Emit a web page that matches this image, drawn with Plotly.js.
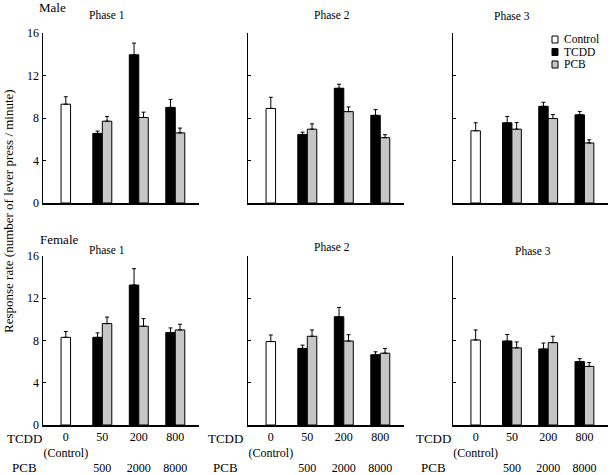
<!DOCTYPE html>
<html><head><meta charset="utf-8">
<script src="https://cdn.plot.ly/plotly-3.0.1.min.js"></script>
<style>html,body{margin:0;padding:0;background:#fff}</style>
</head><body><div id="chart" style="width:610px;height:475px"></div>
<script>
// ---- data ----
const doseTCDD = ['0', '50', '200', '800'];
const dosePCB = ['', '500', '2000', '8000'];
const controlNote = '(Control)';
const phases = ['Phase 1', 'Phase 2', 'Phase 3'];
const sexes = ['Male', 'Female'];
const seriesNames = ['Control', 'TCDD', 'PCB'];
const yTicks = [0, 4, 8, 12, 16];
const yTitle = 'Response rate (number of lever press / minute)';
const rowLabels = ['TCDD', 'PCB'];

const maleControl = [9.3, 8.9, 6.8];
const maleControlErr = [0.7, 1.05, 0.75];
const maleTCDD = [[6.55, 13.95, 9.0], [6.45, 10.8, 8.25], [7.55, 9.1, 8.3]];
const maleTCDDErr = [[0.22, 1.1, 0.75], [0.22, 0.38, 0.54], [0.6, 0.38, 0.32]];
const malePCB = [[7.7, 8.05, 6.6], [6.95, 8.6, 6.15], [6.95, 7.95, 5.65]];
const malePCBErr = [[0.45, 0.5, 0.45], [0.5, 0.44, 0.28], [0.62, 0.38, 0.3]];

const femaleControl = [8.3, 7.9, 8.05];
const femaleControlErr = [0.55, 0.62, 0.95];
const femaleTCDD = [[8.3, 13.25, 8.75], [7.25, 10.25, 6.65], [7.95, 7.2, 6.0]];
const femaleTCDDErr = [[0.42, 1.55, 0.44], [0.31, 0.88, 0.28], [0.62, 0.56, 0.28]];
const femalePCB = [[9.6, 9.35, 9.0], [8.4, 7.95, 6.8], [7.3, 7.8, 5.55]];
const femalePCBErr = [[0.62, 0.72, 0.54], [0.6, 0.6, 0.44], [0.56, 0.6, 0.36]];

// ---- layout helpers ----
const W = 610, H = 475;
const px = x => x / W, py = y => 1 - y / H;
const colDom = [[43, 199], [248, 404], [453, 608]];
const rowDom = [[33, 203], [256, 425]];
const fills = { Control: '#ffffff', TCDD: '#000000', PCB: '#c6c6c6' };
const barW = 0.26;
const serif = '"Liberation Serif", "Times New Roman", Times, serif';

const groups = [
  { ctrl: maleControl, ctrlErr: maleControlErr, tcdd: maleTCDD, tcddErr: maleTCDDErr, pcb: malePCB, pcbErr: malePCBErr },
  { ctrl: femaleControl, ctrlErr: femaleControlErr, tcdd: femaleTCDD, tcddErr: femaleTCDDErr, pcb: femalePCB, pcbErr: femalePCBErr }
];

function errBar(arr) {
  return { type: 'data', symmetric: false, array: arr, arrayminus: arr.map(() => 0),
           color: '#000', thickness: 1, width: 2 };
}
function barStyle(name) {
  return { color: fills[name], line: { color: '#000', width: 1 } };
}

const traces = [];
const layout = {
  width: W, height: H, margin: { l: 0, r: 0, t: 0, b: 0 },
  paper_bgcolor: '#fff', plot_bgcolor: '#fff',
  barmode: 'overlay', showlegend: false,
  font: { family: serif, color: '#000', size: 12 },
  annotations: [], shapes: []
};

const titlePos = [[[107, 15], [332, 15], [512, 16]], [[107, 250], [332, 247], [533, 251]]];
const sexPos = [[52, 7], [59, 239]];
const rowLabelX = [25, 225, 433];
const rowLabelY = [438, 467];

for (let r = 0; r < 2; r++) {
  const g = groups[r];
  for (let c = 0; c < 3; c++) {
    const idx = r * 3 + c + 1;
    const s = idx === 1 ? '' : String(idx);
    const xa = 'x' + s, ya = 'y' + s;
    traces.push({
      type: 'bar', name: seriesNames[0], x: [doseTCDD[0]], y: [g.ctrl[c]],
      xaxis: xa, yaxis: ya, width: barW, offset: -barW / 2,
      marker: barStyle('Control'), error_y: errBar([g.ctrlErr[c]]), hoverinfo: 'skip'
    });
    traces.push({
      type: 'bar', name: seriesNames[1], x: doseTCDD.slice(1), y: g.tcdd[c],
      xaxis: xa, yaxis: ya, width: barW, offset: -barW,
      marker: barStyle('TCDD'), error_y: errBar(g.tcddErr[c]), hoverinfo: 'skip'
    });
    traces.push({
      type: 'bar', name: seriesNames[2], x: doseTCDD.slice(1), y: g.pcb[c],
      xaxis: xa, yaxis: ya, width: barW, offset: 0,
      marker: barStyle('PCB'), error_y: errBar(g.pcbErr[c]), hoverinfo: 'skip'
    });

    const ticktext = doseTCDD.map((d, i) => i === 0 ? d + '<br>' + controlNote : d + '<br> <br>' + dosePCB[i]);
    layout['xaxis' + s] = {
      domain: [px(colDom[c][0]), px(colDom[c][1])], anchor: ya,
      type: 'category', categoryorder: 'array', categoryarray: doseTCDD,
      range: [-0.625, 3.65], showline: true, linecolor: '#000', linewidth: 1.5,
      ticks: '', showgrid: false, zeroline: false, fixedrange: true,
      tickmode: 'array', tickvals: doseTCDD, ticktext: ticktext,
      showticklabels: r === 1, tickfont: { family: serif, size: 12, color: '#000' }
    };
    layout['yaxis' + s] = {
      domain: [py(rowDom[r][1]), py(rowDom[r][0])], anchor: xa,
      range: [0, 16], tickmode: 'array', tickvals: yTicks,
      ticks: 'inside', ticklen: 3, tickwidth: 1, tickcolor: '#000',
      showline: true, linecolor: '#000', linewidth: 1.5,
      showgrid: false, zeroline: false, fixedrange: true,
      showticklabels: c === 0, tickfont: { family: serif, size: 12, color: '#000' }
    };

    layout.annotations.push({
      text: phases[c], xref: 'paper', yref: 'paper',
      x: px(titlePos[r][c][0]), y: py(titlePos[r][c][1]),
      xanchor: 'center', yanchor: 'middle', showarrow: false,
      font: { family: serif, size: 11.5, color: '#000' }
    });
    if (r === 1) {
      rowLabels.forEach((lab, k) => layout.annotations.push({
        text: lab, xref: 'paper', yref: 'paper',
        x: px(rowLabelX[c]), y: py(rowLabelY[k]),
        xanchor: 'center', yanchor: 'middle', showarrow: false,
        font: { family: serif, size: 13, color: '#000' }
      }));
    }
  }
  layout.annotations.push({
    text: sexes[r], xref: 'paper', yref: 'paper',
    x: px(sexPos[r][0]), y: py(sexPos[r][1]),
    xanchor: 'center', yanchor: 'middle', showarrow: false,
    font: { family: serif, size: 13, color: '#000' }
  });
}

layout.annotations.push({
  text: yTitle, xref: 'paper', yref: 'paper', x: px(8), y: py(211),
  xanchor: 'center', yanchor: 'middle', textangle: -90, showarrow: false,
  font: { family: serif, size: 13, color: '#000' }
});

// compact legend (top-right panel)
const legendRows = [39.5, 52, 64.5];
seriesNames.forEach((name, k) => {
  layout.shapes.push({
    type: 'rect', xref: 'paper', yref: 'paper',
    x0: px(552), x1: px(558), y0: py(legendRows[k] + 3.5), y1: py(legendRows[k] - 3.5),
    fillcolor: fills[name], line: { color: '#000', width: 1 }
  });
  layout.annotations.push({
    text: name, xref: 'paper', yref: 'paper', x: px(562), y: py(legendRows[k]),
    xanchor: 'left', yanchor: 'middle', showarrow: false,
    font: { family: serif, size: 11.5, color: '#000' }
  });
});

Plotly.newPlot('chart', traces, layout, { displayModeBar: false, staticPlot: true });
</script>
</body></html>
